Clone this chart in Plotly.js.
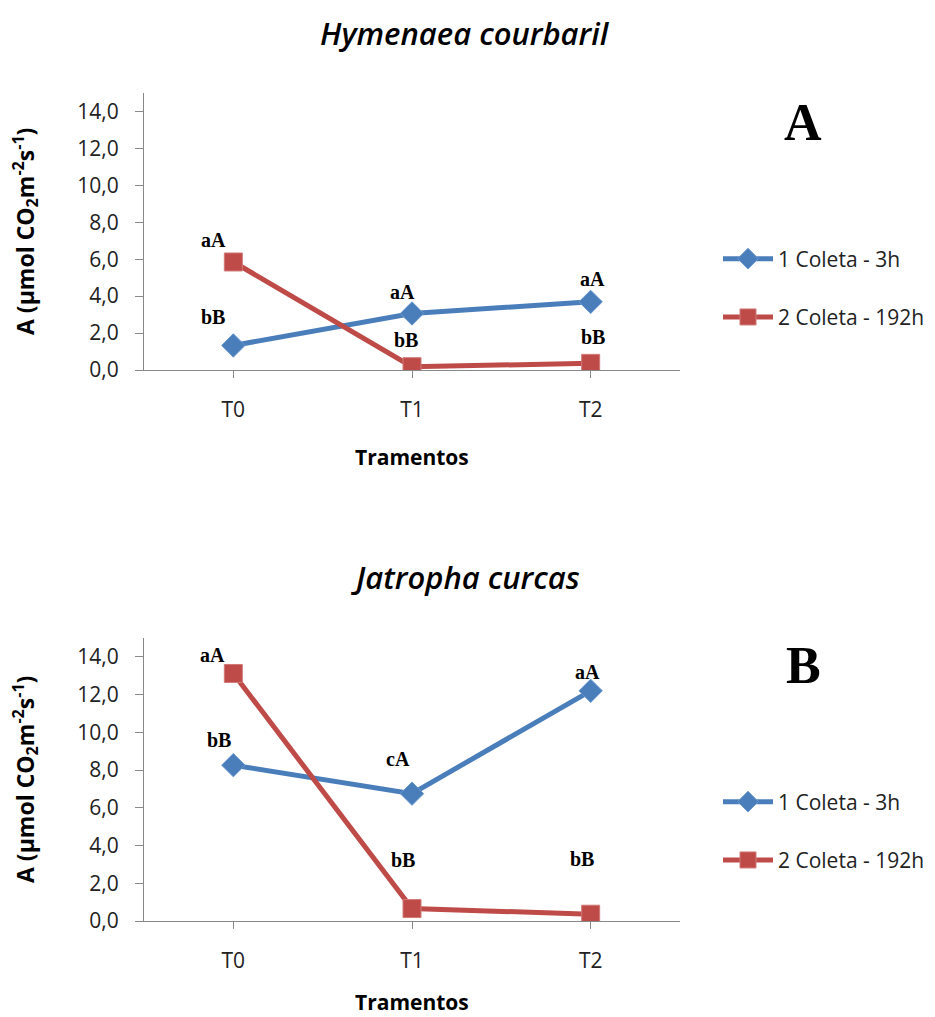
<!DOCTYPE html>
<html>
<head>
<meta charset="utf-8">
<script src="https://cdn.plot.ly/plotly-3.0.1.min.js"></script>
<style>html,body{margin:0;padding:0;background:#fff;}#chart{width:935px;height:1017px;}</style>
</head>
<body>
<div id="chart"></div>
<script>
// ---- data ----
const categories = ['T0', 'T1', 'T2'];
const seriesNames = ['1 Coleta - 3h', '2 Coleta - 192h'];
const panelTitles = ['Hymenaea courbaril', 'Jatropha curcas'];
const panelLetters = ['A', 'B'];
const xTitle = 'Tramentos';
const yTitle = 'A (µmol CO<sub>2</sub>m<sup>-2</sup>s<sup>-1</sup>)';
const yTickVals = [0, 2, 4, 6, 8, 10, 12, 14];

const hymColeta1 = [1.33, 3.06, 3.69];
const hymColeta2 = [5.85, 0.18, 0.36];
const jatColeta1 = [8.26, 6.75, 12.2];
const jatColeta2 = [13.12, 0.66, 0.36];

const hymLabels1 = ['bB', 'aA', 'aA'];
const hymLabels2 = ['aA', 'bB', 'bB'];
const jatLabels1 = ['bB', 'cA', 'aA'];
const jatLabels2 = ['aA', 'bB', 'bB'];

// ---- styles ----
const BLUE = '#4A7EBB';
const RED = '#BE4B48';
const AXIS = '#888888';
const SANS = 'Open Sans, sans-serif';
const SERIF = 'Liberation Serif, Times New Roman, serif';

function traces(v1, v2, xa, ya, leg) {
  return [
    {x: categories, y: v1, name: seriesNames[0], type: 'scatter', mode: 'lines+markers',
     xaxis: xa, yaxis: ya, legend: leg, legendgroup: leg + 'a',
     line: {color: BLUE, width: 5},
     marker: {symbol: 'diamond', size: 18, color: BLUE, line: {color: '#6a98d0', width: 1}}},
    {x: categories, y: v2, name: seriesNames[1], type: 'scatter', mode: 'lines+markers',
     xaxis: xa, yaxis: ya, legend: leg, legendgroup: leg + 'b',
     line: {color: RED, width: 5},
     marker: {symbol: 'square', size: 18, color: RED, line: {color: '#d07a78', width: 1}}}
  ];
}

const data = [
  ...traces(hymColeta1, hymColeta2, 'x', 'y', 'legend'),
  ...traces(jatColeta1, jatColeta2, 'x2', 'y2', 'legend2')
];

// label offsets (pixels) relative to each point
const offTop1 = [[-20, 28], [-10, 21], [2, 23]];
const offTop2 = [[-20, 22], [-6, 27], [2, 26]];
const offBot1 = [[-14, 25], [-14, 35], [-3, 19]];
const offBot2 = [[-21, 18], [-9, 49], [-9, 55]];

const annotations = [];
function addLabels(vals, labels, offs, xa, ya) {
  categories.forEach((c, i) => {
    annotations.push({x: c, y: vals[i], xref: xa, yref: ya, text: '<b>' + labels[i] + '</b>',
      showarrow: false, xshift: offs[i][0], yshift: offs[i][1],
      font: {family: SERIF, size: 20, color: '#000'}});
  });
}
addLabels(hymColeta1, hymLabels1, offTop1, 'x', 'y');
addLabels(hymColeta2, hymLabels2, offTop2, 'x', 'y');
addLabels(jatColeta1, jatLabels1, offBot1, 'x2', 'y2');
addLabels(jatColeta2, jatLabels2, offBot2, 'x2', 'y2');

// panel titles and letters
[[panelTitles[0], 0.9676], [panelTitles[1], 0.4322]].forEach(([t, y]) => {
  annotations.push({x: 465 / 935, y: y, xref: 'paper', yref: 'paper', text: '<i>' + t + '</i>',
    showarrow: false, xanchor: 'center', yanchor: 'middle',
    font: {family: SANS, size: 31, color: '#000', weight: 600}});
});
[[panelLetters[0], 0.880], [panelLetters[1], 0.346]].forEach(([t, y]) => {
  annotations.push({x: 0.859, y: y, xref: 'paper', yref: 'paper', text: '<b>' + t + '</b>',
    showarrow: false, xanchor: 'center', yanchor: 'middle',
    font: {family: SERIF, size: 52, color: '#000'}});
});
// axis titles
[1 - 457 / 1017, 1 - 1002 / 1017].forEach(y => {
  annotations.push({x: 412 / 935, y: y, xref: 'paper', yref: 'paper', text: '<b>' + xTitle + '</b>',
    showarrow: false, xanchor: 'center', yanchor: 'middle',
    font: {family: SANS, size: 21, color: '#000'}});
});
[1 - 232 / 1017, 1 - 780 / 1017].forEach(y => {
  annotations.push({x: 25 / 935, y: y, xref: 'paper', yref: 'paper', text: '<b>' + yTitle + '</b>',
    showarrow: false, xanchor: 'center', yanchor: 'middle', textangle: -90,
    font: {family: SANS, size: 23, color: '#000'}});
});

function xaxis(anchor) {
  return {type: 'category', categoryarray: categories, range: [-0.5, 2.5], anchor: anchor,
    domain: [144 / 935, 680 / 935], showline: true, linecolor: AXIS, linewidth: 1,
    ticks: 'outside', ticklen: 7, tickcolor: AXIS, showgrid: false, zeroline: false,
    tickfont: {family: SANS, size: 21, color: '#222'}, ticklabelstandoff: 14,
    automargin: false, fixedrange: true};
}
function yaxis(anchor, domain) {
  return {range: [0, 15], anchor: anchor, domain: domain, tickvals: yTickVals, tickformat: '.1f',
    showline: true, linecolor: AXIS, linewidth: 1, ticks: 'outside', ticklen: 8, tickcolor: AXIS,
    showgrid: false, zeroline: false,
    tickfont: {family: SANS, size: 21, color: '#222'}, ticklabelstandoff: 12,
    automargin: false, fixedrange: true};
}

const legendBase = {x: 718 / 935, xanchor: 'left', yanchor: 'middle', bgcolor: 'rgba(0,0,0,0)',
  font: {family: SANS, size: 21, color: '#222'}, tracegroupgap: 28, traceorder: 'grouped', itemwidth: 50};

const layout = {
  width: 935, height: 1017,
  margin: {l: 0, r: 0, t: 0, b: 0},
  paper_bgcolor: '#fff', plot_bgcolor: '#fff',
  separators: ',.',
  showlegend: true,
  xaxis: xaxis('y'),
  yaxis: yaxis('x', [1 - 370 / 1017, 1 - 93 / 1017]),
  xaxis2: xaxis('y2'),
  yaxis2: yaxis('x2', [1 - 921 / 1017, 1 - 638 / 1017]),
  legend: Object.assign({}, legendBase, {y: 1 - 288 / 1017}),
  legend2: Object.assign({}, legendBase, {y: 1 - 831 / 1017}),
  annotations: annotations
};

Plotly.newPlot('chart', data, layout, {staticPlot: true, displayModeBar: false});
</script>
</body>
</html>
